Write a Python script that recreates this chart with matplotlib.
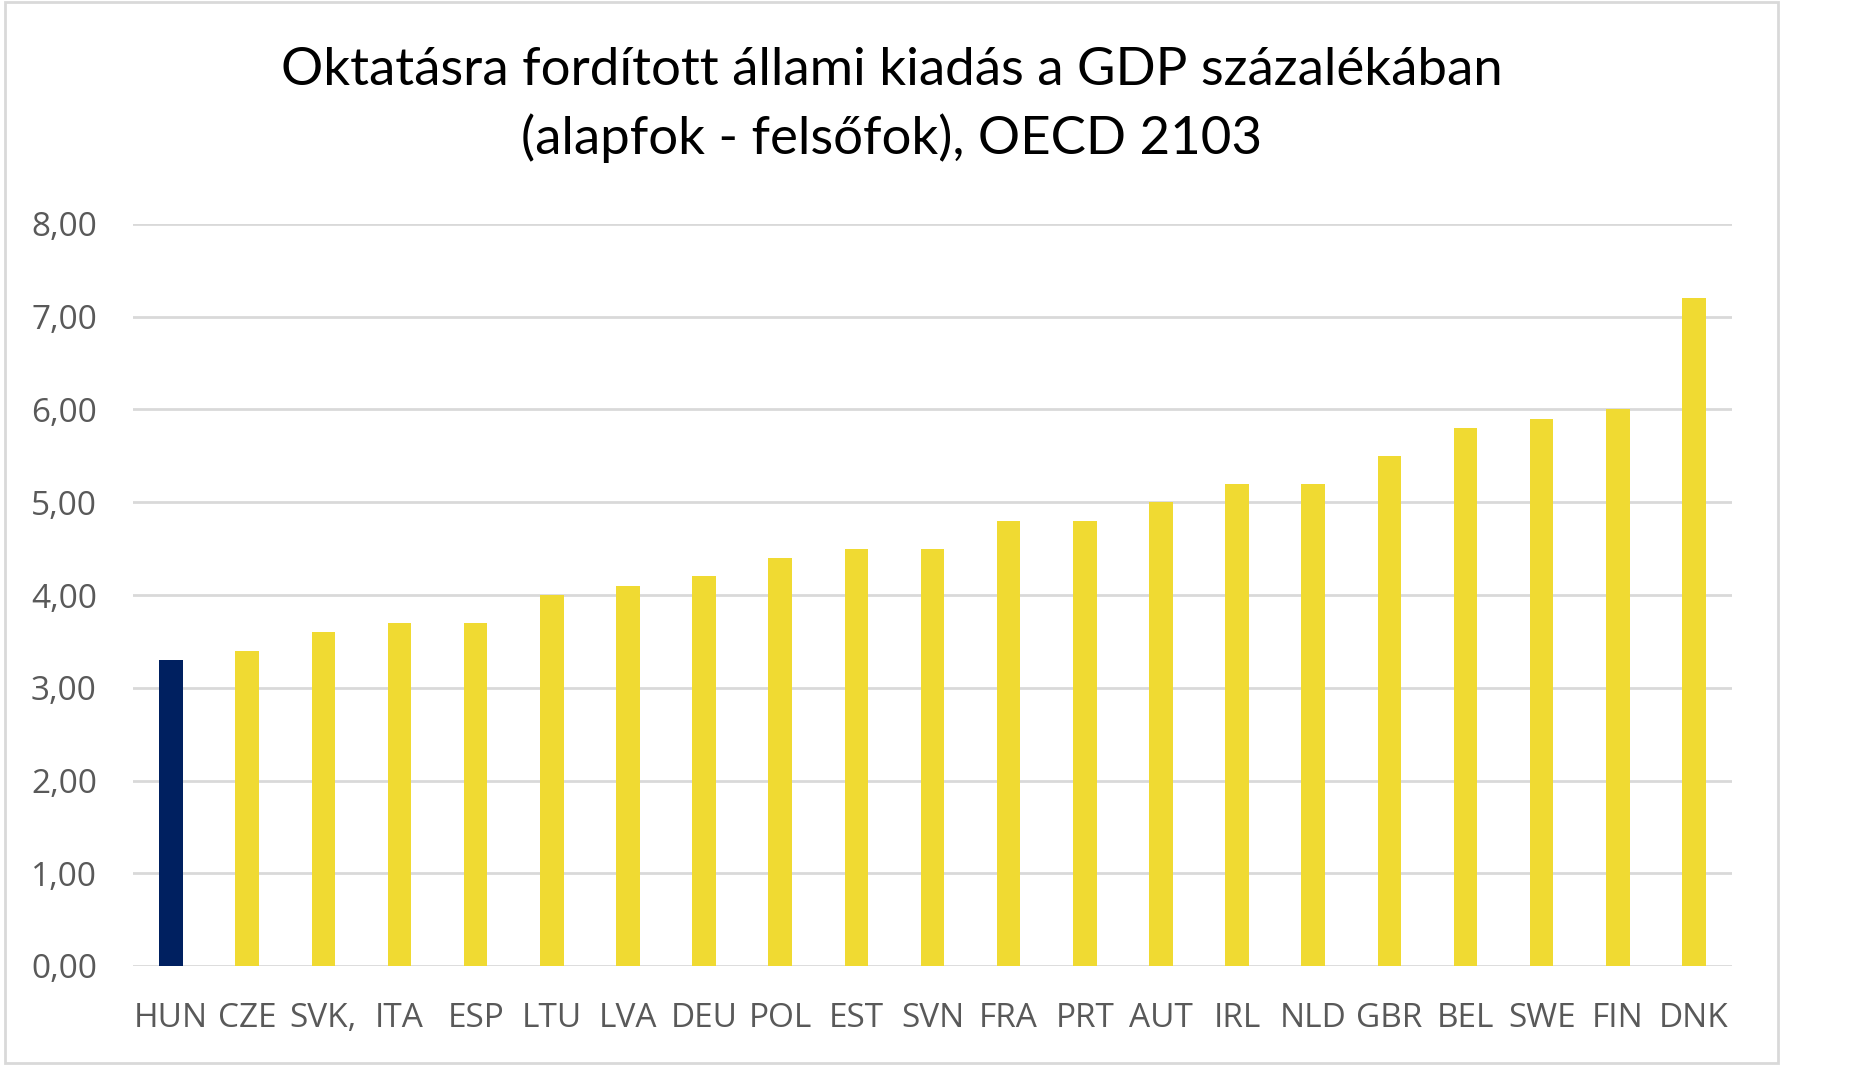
import numpy as np
import matplotlib.pyplot as plt
from matplotlib.patches import Rectangle

# Data
countries = ['HUN', 'CZE', 'SVK,', 'ITA', 'ESP', 'LTU', 'LVA', 'DEU', 'POL', 'EST', 'SVN',
             'FRA', 'PRT', 'AUT', 'IRL', 'NLD', 'GBR', 'BEL', 'SWE', 'FIN', 'DNK']
spending = [3.3, 3.4, 3.6, 3.7, 3.7, 4.0, 4.1, 4.2, 4.4, 4.5, 4.5,
            4.8, 4.8, 5.0, 5.2, 5.2, 5.5, 5.8, 5.9, 6.0, 7.2]
y_ticks = [0, 1, 2, 3, 4, 5, 6, 7, 8]
highlight = 'HUN'

yellow = '#F0DA32'
navy = '#002060'
grey_text = '#595959'

fig = plt.figure(figsize=(18.5, 10.92), dpi=100)
ax = fig.add_axes([133 / 1850, 126 / 1092, 1599 / 1850, 742 / 1092])

# chart border
fig.patches.append(Rectangle((5 / 1850, 29 / 1092), 1773 / 1850, 1061 / 1092,
                             transform=fig.transFigure, fill=False,
                             edgecolor='#D9D9D9', linewidth=2))

colors = [navy if c == highlight else yellow for c in countries]
x = np.arange(len(countries))
ax.bar(x, spending, width=0.31, color=colors, zorder=3)

ax.set_xlim(-0.5, len(countries) - 0.5)
ax.set_ylim(0, 8)
ax.set_yticks(y_ticks)
ax.set_yticklabels([f'{v:.2f}'.replace('.', ',') for v in y_ticks])
ax.set_xticks(x)
ax.set_xticklabels(countries)

ax.grid(axis='y', color='#D9D9D9', linewidth=2, zorder=0)
for s in ax.spines.values():
    s.set_visible(False)
ax.tick_params(length=0, labelsize=24, labelcolor=grey_text)
ax.tick_params(axis='y', pad=26)
ax.tick_params(axis='x', pad=26)
for lab in ax.get_xticklabels() + ax.get_yticklabels():
    lab.set_fontfamily('Open Sans')

fig.text(892 / 1850, 1 - 105 / 1092,
         'Oktatásra fordított állami kiadás a GDP százalékában\n(alapfok - felsőfok), OECD 2103',
         ha='center', va='center', fontsize=38, family='Lato', linespacing=1.45)

fig.savefig('out.png', dpi=100)
